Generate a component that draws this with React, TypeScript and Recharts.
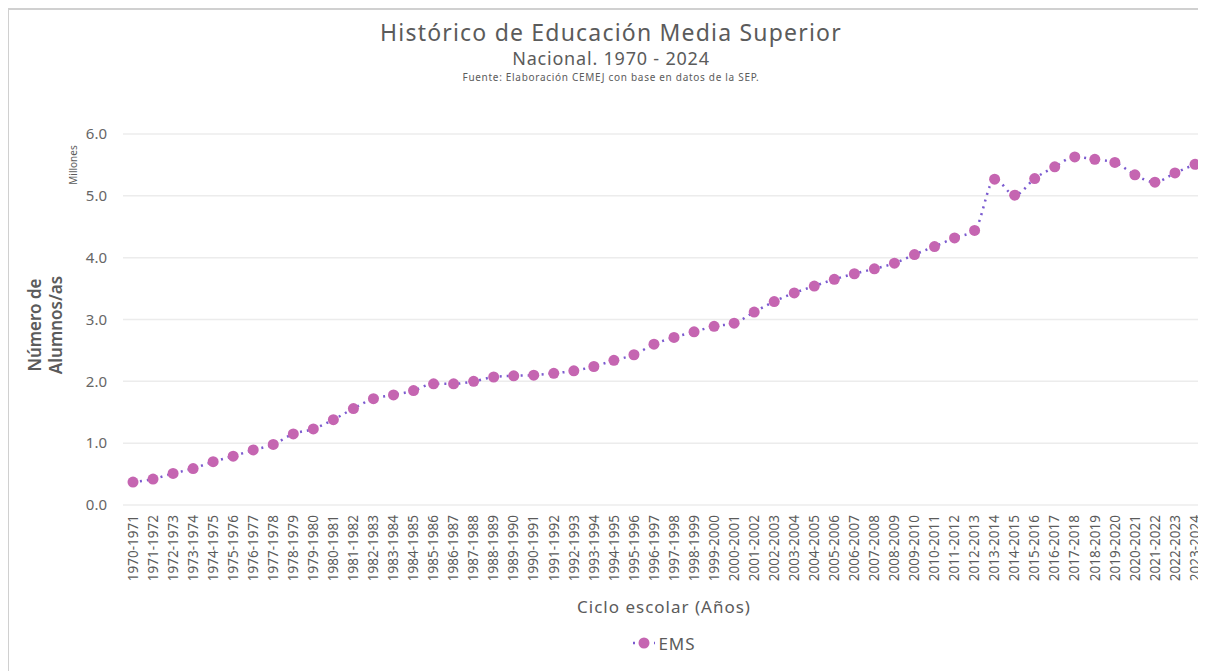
import { LineChart, Line, XAxis, YAxis, CartesianGrid, Legend } from 'recharts';

const ciclos = [
  '1970-1971', '1971-1972', '1972-1973', '1973-1974', '1974-1975', '1975-1976', '1976-1977', '1977-1978',
  '1978-1979', '1979-1980', '1980-1981', '1981-1982', '1982-1983', '1983-1984', '1984-1985', '1985-1986',
  '1986-1987', '1987-1988', '1988-1989', '1989-1990', '1990-1991', '1991-1992', '1992-1993', '1993-1994',
  '1994-1995', '1995-1996', '1996-1997', '1997-1998', '1998-1999', '1999-2000', '2000-2001', '2001-2002',
  '2002-2003', '2003-2004', '2004-2005', '2005-2006', '2006-2007', '2007-2008', '2008-2009', '2009-2010',
  '2010-2011', '2011-2012', '2012-2013', '2013-2014', '2014-2015', '2015-2016', '2016-2017', '2017-2018',
  '2018-2019', '2019-2020', '2020-2021', '2021-2022', '2022-2023', '2023-2024',
];

// alumnos de EMS, en millones
const ems = [
  0.37, 0.42, 0.51, 0.59, 0.70, 0.79, 0.89, 0.98,
  1.15, 1.23, 1.38, 1.56, 1.72, 1.78, 1.85, 1.96,
  1.96, 2.00, 2.07, 2.09, 2.10, 2.13, 2.17, 2.24,
  2.34, 2.43, 2.60, 2.71, 2.80, 2.89, 2.94, 3.12,
  3.29, 3.43, 3.54, 3.65, 3.74, 3.82, 3.91, 4.05,
  4.18, 4.32, 4.44, 5.27, 5.01, 5.28, 5.47, 5.63,
  5.59, 5.54, 5.34, 5.22, 5.37, 5.51,
];

const yTicks = [0, 1, 2, 3, 4, 5, 6];

const data = ciclos.map((ciclo, i) => ({ ciclo, EMS: ems[i] }));

const FONT = '"Noto Sans", sans-serif';
const TEXT = '#5b5b5b';
const LINE = '#7b5bd0';
const DOT = '#c565b1';

function CicloTick({ x, y, payload }: any) {
  return (
    <text
      x={x}
      y={y}
      dy="0.35em"
      transform={`rotate(-90, ${x}, ${y})`}
      textAnchor="end"
      fontSize={13.5}
      fill={TEXT}
      fontFamily={FONT}
    >
      {payload.value}
    </text>
  );
}

function YTitle() {
  return (
    <g fontFamily={FONT} fill={TEXT}>
      <text transform="rotate(-90, 33, 317)" x={33} y={317} textAnchor="middle" fontSize={17} fontWeight={600}>
        Número de
      </text>
      <text transform="rotate(-90, 54, 317)" x={54} y={317} textAnchor="middle" fontSize={17} fontWeight={600}>
        Alumnos/as
      </text>
      <text transform="rotate(-90, 69, 157)" x={69} y={157} textAnchor="middle" fontSize={10}>
        Millones
      </text>
    </g>
  );
}

function LegendEMS() {
  return (
    <div
      style={{
        display: 'flex', justifyContent: 'center', alignItems: 'center', height: 36,
        paddingLeft: 115, fontFamily: FONT, color: TEXT,
      }}
    >
      <svg width={24} height={14} style={{ marginRight: 2 }}>
        <line x1={1} y1={7} x2={23} y2={7} stroke={LINE} strokeWidth={2.5} strokeDasharray="2 5" />
        <circle cx={12} cy={7} r={5.5} fill={DOT} />
      </svg>
      <span style={{ fontSize: 17, letterSpacing: 1 }}>EMS</span>
    </div>
  );
}

export default function App() {
  return (
    <div style={{ position: 'relative', width: 1198, height: 663, background: '#fff', fontFamily: FONT }}>
      <div
        style={{
          position: 'absolute', left: -1, top: 0, width: 1199, height: 663,
          borderTop: '2px solid #d0d0d0', borderLeft: '2px solid #d0d0d0', boxSizing: 'border-box',
        }}
      />
      <div style={{ position: 'absolute', left: 0, top: 10, width: 1206, textAlign: 'center', color: TEXT }}>
        <div style={{ fontSize: 23, letterSpacing: 1.2, lineHeight: '28px' }}>
          Histórico de Educación Media Superior
        </div>
        <div style={{ fontSize: 18, letterSpacing: 0.8, lineHeight: '24px' }}>Nacional. 1970 - 2024</div>
        <div style={{ fontSize: 10, letterSpacing: 0.7, lineHeight: '14px' }}>
          Fuente: Elaboración CEMEJ con base en datos de la SEP.
        </div>
      </div>
      <LineChart
        width={1198}
        height={663}
        data={data}
        margin={{ top: 126, right: 1, left: 0, bottom: 10 }}
        style={{ position: 'absolute', left: 0, top: 0 }}
      >
        <CartesianGrid vertical={false} stroke="#ececec" strokeWidth={1.5} />
        <XAxis
          dataKey="ciclo"
          interval={0}
          height={120}
          padding={{ left: 10, right: 10 }}
          tickLine={false}
          axisLine={false}
          tick={<CicloTick />}
          tickMargin={4}
          label={{
            value: 'Ciclo escolar (Años)',
            position: 'insideBottom',
            offset: 12,
            fontSize: 17,
            letterSpacing: 1,
            fill: TEXT,
            fontFamily: FONT,
          }}
        />
        <YAxis
          domain={[0, 6]}
          ticks={yTicks}
          width={115}
          tickLine={false}
          axisLine={false}
          tickMargin={10}
          tickFormatter={(v: number) => v.toFixed(1)}
          tick={{ fontSize: 15, fill: '#666', fontFamily: FONT }}
          label={{ content: <YTitle /> }}
        />
        <Legend verticalAlign="bottom" height={36} content={<LegendEMS />} />
        <Line
          type="monotone"
          dataKey="EMS"
          stroke={LINE}
          strokeWidth={2.5}
          strokeDasharray="2 5"
          dot={{ r: 5.5, fill: DOT, stroke: DOT, strokeWidth: 0 }}
          activeDot={false}
          isAnimationActive={false}
        />
      </LineChart>
    </div>
  );
}
